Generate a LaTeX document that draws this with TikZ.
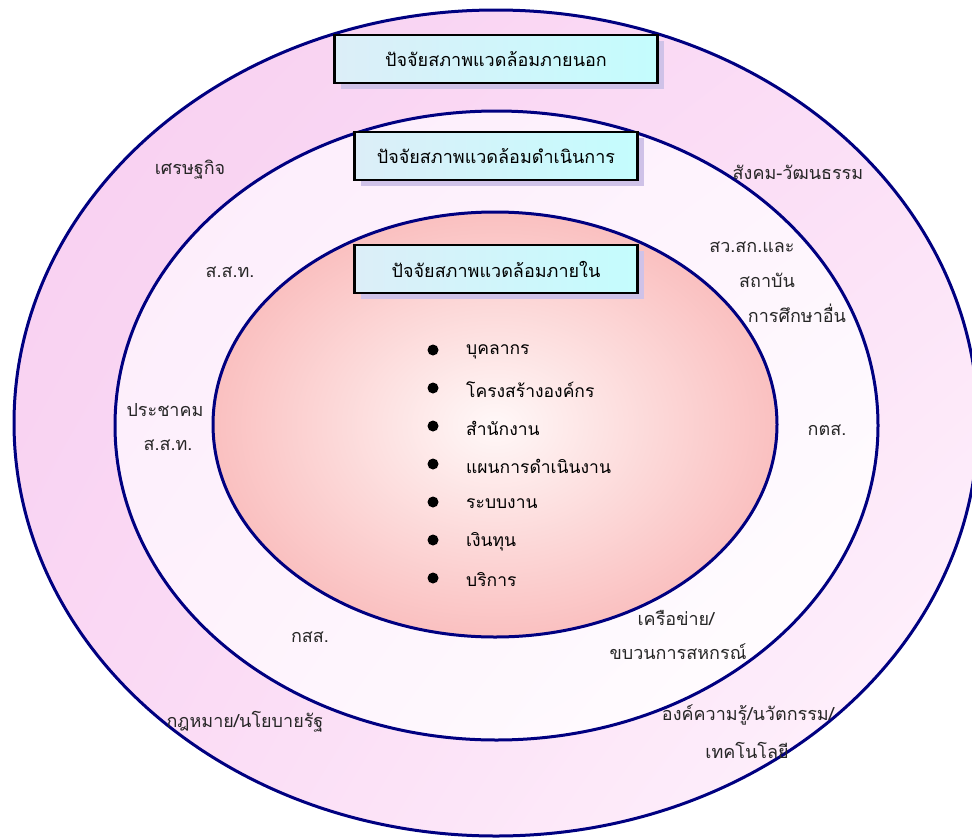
\documentclass[tikz,border=0pt]{standalone}
\usepackage{fontspec}
\usetikzlibrary{shadings}
\newfontfamily\thai[Script=Thai]{Loma}
\definecolor{navy}{HTML}{000080}
\definecolor{shadowc}{HTML}{CFC2E8}
\definecolor{oUL}{RGB}{248,206,240}
\definecolor{oUR}{RGB}{251,222,246}
\definecolor{oLL}{RGB}{250,216,244}
\definecolor{oLR}{RGB}{255,246,253}
\definecolor{mUL}{RGB}{252,236,251}
\definecolor{mUR}{RGB}{254,244,253}
\definecolor{mLL}{RGB}{254,242,252}
\definecolor{mLR}{RGB}{255,255,255}
\definecolor{iIn}{RGB}{255,248,248}
\definecolor{iOut}{RGB}{250,192,192}
\definecolor{bxL}{RGB}{220,238,248}
\definecolor{bxR}{RGB}{196,252,253}
\begin{document}
\begin{tikzpicture}[x=1pt,y=1pt,
  ring/.style={draw=navy,line width=3pt},
  titlebox/.style={draw=black,line width=2.4pt,left color=bxL,right color=bxR,minimum height=48pt,font=\thai\fontsize{18}{21}\selectfont,inner sep=0pt},
  shadowbox/.style={fill=shadowc,minimum height=48pt,inner sep=0pt},
  lab/.style={font=\thai\fontsize{18}{21}\selectfont,inner sep=0pt,text=black!85},
  item/.style={font=\thai\fontsize{17.5}{20}\selectfont,anchor=west,inner sep=0pt},
  dot/.style={circle,fill=black,minimum size=11pt,inner sep=0pt}]
\useasboundingbox (0,0) rectangle (972,-838);
\clip (0,0) rectangle (972,-838);
% rings
\path[ring,upper left=oUL,upper right=oUR,lower left=oLL,lower right=oLR] (496,-423) ellipse [x radius=482,y radius=413];
\path[ring,upper left=mUL,upper right=mUR,lower left=mLL,lower right=mLR] (496.5,-425.5) ellipse [x radius=381.5,y radius=314.5];
\path[ring,inner color=iIn,outer color=iOut] (495,-424.5) ellipse [x radius=282,y radius=212.5];
% title boxes
\node[shadowbox,minimum width=323pt] (s1) at (502,-65) {};
\node[titlebox,minimum width=323pt] (b1) at (496,-59) {ปัจจัยสภาพแวดล้อมภายนอก};
\node[shadowbox,minimum width=283pt] (s2) at (502,-162) {};
\node[titlebox,minimum width=283pt] (b2) at (496,-156) {ปัจจัยสภาพแวดล้อมดำเนินการ};
\node[shadowbox,minimum width=283pt] (s3) at (502,-275) {};
\node[titlebox,minimum width=283pt] (b3) at (496,-269) {ปัจจัยสภาพแวดล้อมภายใน};
% bullet list
\foreach \t [count=\i] in {บุคลากร,โครงสร้างองค์กร,สำนักงาน,แผนการดำเนินงาน,ระบบงาน,เงินทุน,บริการ}{
  \node[dot] (d\i) at (433,{-350-38*(\i-1)}) {};
  \node[item] (t\i) at (466,{-352-38*(\i-1)}) {\t};
}
% outer ring labels
\node[lab] (l1) at (190,-170) {เศรษฐกิจ};
\node[lab] (l2) at (798,-172) {สังคม-วัฒนธรรม};
\node[lab] (l3) at (245,-722) {กฎหมาย/นโยบายรัฐ};
\node[lab] (l4) at (748,-715) {องค์ความรู้/นวัตกรรม/};
\node[lab] (l5) at (747,-750) {เทคโนโลยี};
% middle ring labels
\node[lab] (m1) at (230,-272) {ส.ส.ท.};
\node[lab] (m2) at (752,-247) {สว.สก.และ};
\node[lab] (m3) at (767,-280) {สถาบัน};
\node[lab] (m4) at (797,-313) {การศึกษาอื่น};
\node[lab] (m5) at (165,-410) {ประชาคม};
\node[lab] (m6) at (168,-445) {ส.ส.ท.};
\node[lab] (m7) at (827,-430) {กตส.};
\node[lab] (m8) at (676,-618) {เครือข่าย/};
\node[lab] (m9) at (678,-652) {ขบวนการสหกรณ์};
\node[lab] (m10) at (310,-637) {กสส.};
\end{tikzpicture}
\end{document}
